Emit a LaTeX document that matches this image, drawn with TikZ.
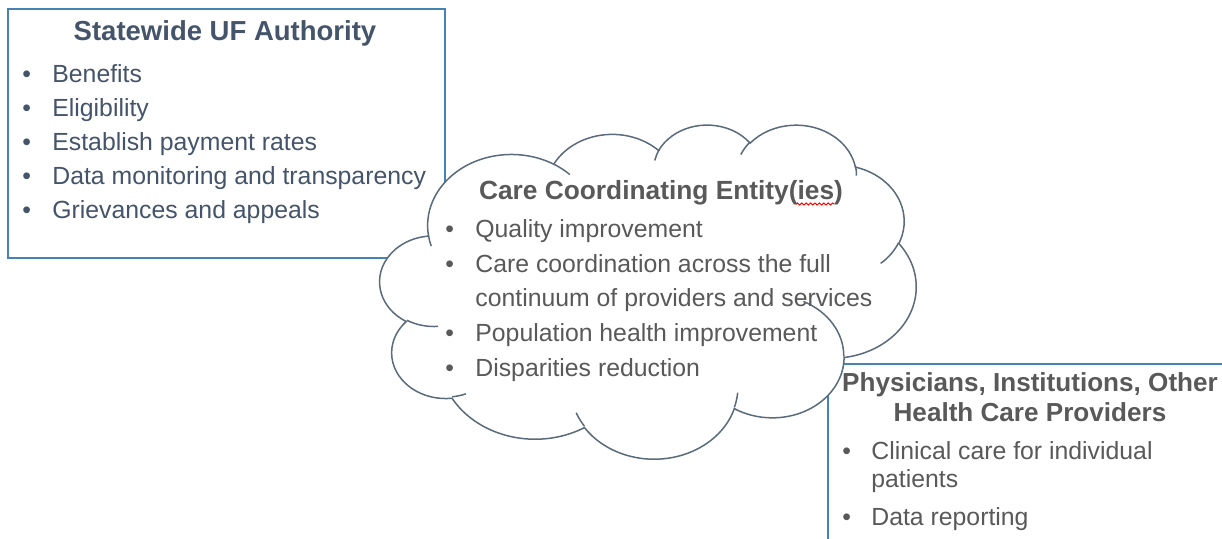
\documentclass[tikz,border=0pt]{standalone}
\usepackage{fontspec}
\setmainfont{Liberation Sans}
\usetikzlibrary{decorations.pathmorphing}
\definecolor{boxline}{HTML}{4682B4}
\definecolor{cloudline}{HTML}{5A6B7B}
\definecolor{slate}{HTML}{44546A}
\definecolor{gtext}{HTML}{595959}
% DrawingML-style elliptical arc: wR, hR, start angle (visual), sweep (deg)
\newcommand\ooarc[4]{%
  \pgfmathsetmacro\oaA{#3}%
  \pgfmathsetmacro\oaB{#3+#4}%
  \pgfmathsetmacro\taA{atan2(#1*sin(\oaA),#2*cos(\oaA))}%
  \pgfmathsetmacro\taB{atan2(#1*sin(\oaB),#2*cos(\oaB))}%
  \pgfmathsetmacro\taB{\taB+360*round(((#4)-(\taB-\taA))/360)}%
  \pgfpatharcaxes{\taA}{\taB}{\pgfpointxy{#1}{0}}{\pgfpointxy{0}{#2}}%
}
\begin{document}
\begin{tikzpicture}[x=0.5pt, y=-0.5pt,
  body/.style={anchor=base west, inner sep=0pt, font=\fontsize{12.4pt}{17pt}\selectfont},
  ttl/.style={anchor=base, inner sep=0pt},
  frame/.style={draw=boxline, line width=1pt}]
\useasboundingbox (0,0) rectangle (1222,539);
\clip (0,0) rectangle (1222,539);
\fill[white] (0,0) rectangle (1222,539);
% boxes
\draw[frame] (8,9) rectangle (445,258);
\draw[frame] (827.5,364) rectangle (1260,580);
% cloud
\begin{scope}[shift={(380,124)}, x=0.62037pt, y=-0.386574pt]
  \pgfsetlinewidth{0.75pt}
  \pgfsetstrokecolor{cloudline}
  \pgfsetfillcolor{white}
  \pgfpathmoveto{\pgfpointxy{39.00}{143.70}}
  \ooarc{67.53}{91.90}{-190.4875}{123.7805}
  \ooarc{53.33}{72.67}{-144.1024}{89.9452}
  \ooarc{43.65}{59.45}{-145.8079}{99.7230}
  \ooarc{48.57}{65.95}{-130.9861}{117.2417}
  \ooarc{53.33}{72.73}{-78.7089}{109.0269}
  \ooarc{67.75}{92.20}{-46.2673}{130.2690}
  \ooarc{57.85}{78.67}{0.6250}{114.0333}
  \ooarc{67.52}{92.15}{22.4516}{115.1726}
  \ooarc{77.20}{105.43}{66.2426}{75.7110}
  \ooarc{43.60}{59.18}{-274.9421}{146.7356}
  \ooarc{43.45}{59.45}{-246.8285}{152.5189}
  \pgfpathclose
  \pgfusepath{fill,stroke}
  \pgfpathmoveto{\pgfpointxy{46.93}{261.77}}
  \ooarc{43.45}{59.45}{86.742}{26.4295}
  \pgfpathmoveto{\pgfpointxy{69.28}{348.99}}
  \ooarc{43.60}{59.18}{73.6105}{11.4475}
  \pgfpathmoveto{\pgfpointxy{164.78}{390.90}}
  \ooarc{67.52}{92.15}{137.6242}{14.0811}
  \pgfpathmoveto{\pgfpointxy{288.27}{347.51}}
  \ooarc{67.52}{92.15}{6.4533}{15.9984}
  \pgfpathmoveto{\pgfpointxy{341.29}{229.54}}
  \ooarc{57.85}{78.67}{-70.2924}{70.9174}
  \pgfpathmoveto{\pgfpointxy{417.98}{153.54}}
  \ooarc{53.33}{72.73}{30.3180}{27.7515}
  \pgfpathmoveto{\pgfpointxy{383.24}{54.26}}
  \ooarc{48.57}{65.95}{-13.7443}{14.8589}
  \pgfpathmoveto{\pgfpointxy{290.78}{39.52}}
  \ooarc{48.57}{65.95}{-149.1815}{18.1954}
  \pgfpathmoveto{\pgfpointxy{221.41}{47.20}}
  \ooarc{43.65}{59.45}{-163.4943}{17.6864}
  \pgfpathmoveto{\pgfpointxy{140.00}{51.92}}
  \ooarc{67.53}{91.90}{-66.7070}{12.3194}
  \pgfpathmoveto{\pgfpointxy{41.27}{157.89}}
  \ooarc{67.53}{91.90}{157.6544}{11.8582}
  \pgfusepath{stroke}
\end{scope}
% left box text
\node[ttl, text=slate, font=\bfseries\fontsize{13.75pt}{16pt}\selectfont] (ttlA) at (225,41) {Statewide UF Authority};
\foreach \t [count=\i] in {Benefits, Eligibility, Establish payment rates, Data monitoring and transparency, Grievances and appeals} {
  \node[body, text=slate] (bA\i) at (22,{83+34*(\i-1)}) {•};
  \node[body, text=slate] (tA\i) at (52,{83+34*(\i-1)}) {\t};
}
% cloud text
\node[ttl, text=gtext, font=\bfseries\fontsize{13.15pt}{16pt}\selectfont] (ttlB) at (661,200) {Care Coordinating Entity(ies)};
\draw[red, line width=0.5pt, decorate, decoration={snake, amplitude=0.5pt, segment length=2.2pt}] (796,204) -- (834,204);
\node[body, text=gtext] (bB1) at (445,238) {•};
\node[body, text=gtext] (tB1) at (475,238) {Quality improvement};
\node[body, text=gtext] (bB2) at (445,273) {•};
\node[body, text=gtext] (tB2) at (475,273) {Care coordination across the full};
\node[body, text=gtext] (tB2b) at (475,307) {continuum of providers and services};
\node[body, text=gtext] (bB3) at (445,342) {•};
\node[body, text=gtext] (tB3) at (475,342) {Population health improvement};
\node[body, text=gtext] (bB4) at (445,377) {•};
\node[body, text=gtext] (tB4) at (475,377) {Disparities reduction};
% physicians box text
\node[ttl, text=gtext, font=\bfseries\fontsize{13.05pt}{16pt}\selectfont] (ttlC1) at (1030,392) {Physicians, Institutions, Other};
\node[ttl, text=gtext, font=\bfseries\fontsize{13.05pt}{16pt}\selectfont] (ttlC2) at (1030,421.5) {Health Care Providers};
\node[body, text=gtext] (bC1) at (842,460) {•};
\node[body, text=gtext] (tC1) at (871,460) {Clinical care for individual};
\node[body, text=gtext] (tC1b) at (871,488) {patients};
\node[body, text=gtext] (bC2) at (842,526) {•};
\node[body, text=gtext] (tC2) at (871,526) {Data reporting};
\end{tikzpicture}
\end{document}
